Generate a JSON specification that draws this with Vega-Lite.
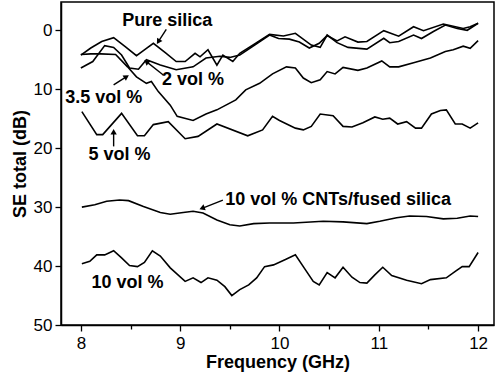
{
  "$schema": "https://vega.github.io/schema/vega-lite/v6.json",
  "width": 433,
  "height": 323,
  "autosize": {"type": "none"},
  "padding": {"left": 61, "top": 2, "right": 6, "bottom": 49},
  "background": "white",
  "config": {
    "view": {"stroke": "black", "strokeWidth": 1.5},
    "axis": {
      "domainColor": "black", "domainWidth": 1.5, "tickColor": "black", "tickWidth": 1.3,
      "labelColor": "black", "titleColor": "black",
      "labelFont": "Liberation Sans", "titleFont": "Liberation Sans",
      "labelFontSize": 17, "titleFontSize": 18, "titleFontWeight": "bold",
      "grid": false, "labelOverlap": false, "labelFlush": false
    }
  },
  "datasets": {
    "curves": [
      {"s":"Pure silica","f":8.0,"se":4.2},{"s":"Pure silica","f":8.1,"se":3.0},{"s":"Pure silica","f":8.21,"se":1.9},{"s":"Pure silica","f":8.33,"se":1.25},{"s":"Pure silica","f":8.45,"se":2.8},{"s":"Pure silica","f":8.56,"se":4.3},{"s":"Pure silica","f":8.65,"se":3.2},{"s":"Pure silica","f":8.73,"se":2.2},{"s":"Pure silica","f":8.85,"se":3.8},{"s":"Pure silica","f":8.96,"se":5.3},{"s":"Pure silica","f":9.05,"se":5.3},{"s":"Pure silica","f":9.15,"se":3.9},{"s":"Pure silica","f":9.2,"se":4.5},{"s":"Pure silica","f":9.28,"se":3.3},{"s":"Pure silica","f":9.37,"se":5.9},{"s":"Pure silica","f":9.43,"se":4.2},{"s":"Pure silica","f":9.53,"se":5.3},{"s":"Pure silica","f":9.6,"se":3.9},{"s":"Pure silica","f":9.75,"se":2.3},{"s":"Pure silica","f":9.9,"se":0.7},{"s":"Pure silica","f":10.04,"se":0.97},{"s":"Pure silica","f":10.16,"se":0.5},{"s":"Pure silica","f":10.32,"se":2.5},{"s":"Pure silica","f":10.41,"se":2.9},{"s":"Pure silica","f":10.48,"se":0.8},{"s":"Pure silica","f":10.58,"se":2.1},{"s":"Pure silica","f":10.69,"se":2.9},{"s":"Pure silica","f":10.88,"se":3.2},{"s":"Pure silica","f":11.05,"se":1.36},{"s":"Pure silica","f":11.11,"se":2.1},{"s":"Pure silica","f":11.2,"se":1.9},{"s":"Pure silica","f":11.35,"se":0.8},{"s":"Pure silica","f":11.43,"se":1.4},{"s":"Pure silica","f":11.55,"se":0.2},{"s":"Pure silica","f":11.67,"se":-0.9},{"s":"Pure silica","f":11.79,"se":-0.3},{"s":"Pure silica","f":11.89,"se":0.0},{"s":"Pure silica","f":12.0,"se":-1.2},
      {"s":"2 vol %","f":8.0,"se":6.4},{"s":"2 vol %","f":8.12,"se":5.3},{"s":"2 vol %","f":8.24,"se":2.6},{"s":"2 vol %","f":8.33,"se":2.9},{"s":"2 vol %","f":8.41,"se":4.2},{"s":"2 vol %","f":8.49,"se":6.4},{"s":"2 vol %","f":8.58,"se":6.6},{"s":"2 vol %","f":8.66,"se":5.0},{"s":"2 vol %","f":8.8,"se":5.9},{"s":"2 vol %","f":8.96,"se":6.7},{"s":"2 vol %","f":9.13,"se":6.2},{"s":"2 vol %","f":9.26,"se":4.7},{"s":"2 vol %","f":9.4,"se":4.4},{"s":"2 vol %","f":9.5,"se":4.6},{"s":"2 vol %","f":9.6,"se":4.2},{"s":"2 vol %","f":9.75,"se":2.5},{"s":"2 vol %","f":9.9,"se":0.8},{"s":"2 vol %","f":9.99,"se":1.4},{"s":"2 vol %","f":10.1,"se":1.5},{"s":"2 vol %","f":10.2,"se":2.0},{"s":"2 vol %","f":10.3,"se":3.0},{"s":"2 vol %","f":10.4,"se":2.2},{"s":"2 vol %","f":10.48,"se":0.9},{"s":"2 vol %","f":10.58,"se":1.8},{"s":"2 vol %","f":10.66,"se":1.1},{"s":"2 vol %","f":10.79,"se":2.0},{"s":"2 vol %","f":10.88,"se":1.9},{"s":"2 vol %","f":11.05,"se":0.06},{"s":"2 vol %","f":11.2,"se":1.0},{"s":"2 vol %","f":11.35,"se":-0.6},{"s":"2 vol %","f":11.45,"se":0.06},{"s":"2 vol %","f":11.65,"se":-1.07},{"s":"2 vol %","f":11.85,"se":-0.3},{"s":"2 vol %","f":11.92,"se":-0.6},{"s":"2 vol %","f":12.0,"se":-1.2},
      {"s":"3.5 vol %","f":8.0,"se":4.1},{"s":"3.5 vol %","f":8.1,"se":4.0},{"s":"3.5 vol %","f":8.2,"se":4.0},{"s":"3.5 vol %","f":8.35,"se":4.1},{"s":"3.5 vol %","f":8.47,"se":6.2},{"s":"3.5 vol %","f":8.56,"se":7.9},{"s":"3.5 vol %","f":8.66,"se":9.0},{"s":"3.5 vol %","f":8.71,"se":8.7},{"s":"3.5 vol %","f":8.78,"se":10.4},{"s":"3.5 vol %","f":8.9,"se":12.7},{"s":"3.5 vol %","f":8.97,"se":14.6},{"s":"3.5 vol %","f":9.13,"se":15.3},{"s":"3.5 vol %","f":9.26,"se":14.2},{"s":"3.5 vol %","f":9.37,"se":13.5},{"s":"3.5 vol %","f":9.56,"se":11.8},{"s":"3.5 vol %","f":9.66,"se":10.1},{"s":"3.5 vol %","f":9.8,"se":9.0},{"s":"3.5 vol %","f":9.93,"se":7.4},{"s":"3.5 vol %","f":10.07,"se":6.2},{"s":"3.5 vol %","f":10.16,"se":6.4},{"s":"3.5 vol %","f":10.24,"se":8.1},{"s":"3.5 vol %","f":10.32,"se":8.9},{"s":"3.5 vol %","f":10.41,"se":8.4},{"s":"3.5 vol %","f":10.48,"se":7.0},{"s":"3.5 vol %","f":10.56,"se":7.4},{"s":"3.5 vol %","f":10.64,"se":6.3},{"s":"3.5 vol %","f":10.79,"se":6.8},{"s":"3.5 vol %","f":10.88,"se":6.4},{"s":"3.5 vol %","f":11.03,"se":5.2},{"s":"3.5 vol %","f":11.11,"se":6.2},{"s":"3.5 vol %","f":11.2,"se":6.2},{"s":"3.5 vol %","f":11.35,"se":5.5},{"s":"3.5 vol %","f":11.52,"se":4.7},{"s":"3.5 vol %","f":11.67,"se":3.6},{"s":"3.5 vol %","f":11.75,"se":3.3},{"s":"3.5 vol %","f":11.85,"se":2.7},{"s":"3.5 vol %","f":11.92,"se":3.05},{"s":"3.5 vol %","f":12.0,"se":1.75},
      {"s":"5 vol %","f":8.01,"se":13.8},{"s":"5 vol %","f":8.16,"se":17.7},{"s":"5 vol %","f":8.22,"se":17.7},{"s":"5 vol %","f":8.41,"se":14.1},{"s":"5 vol %","f":8.57,"se":17.9},{"s":"5 vol %","f":8.64,"se":17.9},{"s":"5 vol %","f":8.73,"se":16.0},{"s":"5 vol %","f":8.88,"se":15.5},{"s":"5 vol %","f":9.05,"se":18.4},{"s":"5 vol %","f":9.18,"se":18.0},{"s":"5 vol %","f":9.37,"se":15.9},{"s":"5 vol %","f":9.68,"se":17.9},{"s":"5 vol %","f":9.83,"se":16.9},{"s":"5 vol %","f":9.93,"se":14.6},{"s":"5 vol %","f":10.0,"se":15.3},{"s":"5 vol %","f":10.16,"se":16.6},{"s":"5 vol %","f":10.24,"se":16.9},{"s":"5 vol %","f":10.32,"se":16.3},{"s":"5 vol %","f":10.41,"se":14.2},{"s":"5 vol %","f":10.54,"se":14.5},{"s":"5 vol %","f":10.64,"se":16.3},{"s":"5 vol %","f":10.73,"se":16.4},{"s":"5 vol %","f":10.84,"se":15.7},{"s":"5 vol %","f":10.96,"se":14.7},{"s":"5 vol %","f":11.04,"se":15.1},{"s":"5 vol %","f":11.11,"se":14.9},{"s":"5 vol %","f":11.19,"se":15.9},{"s":"5 vol %","f":11.28,"se":15.5},{"s":"5 vol %","f":11.37,"se":16.6},{"s":"5 vol %","f":11.43,"se":16.6},{"s":"5 vol %","f":11.53,"se":14.2},{"s":"5 vol %","f":11.62,"se":13.6},{"s":"5 vol %","f":11.68,"se":13.5},{"s":"5 vol %","f":11.77,"se":15.9},{"s":"5 vol %","f":11.84,"se":15.9},{"s":"5 vol %","f":11.92,"se":16.6},{"s":"5 vol %","f":12.0,"se":15.7},
      {"s":"10 vol % CNTs/fused silica","f":8.01,"se":30.0},{"s":"10 vol % CNTs/fused silica","f":8.14,"se":29.6},{"s":"10 vol % CNTs/fused silica","f":8.26,"se":29.0},{"s":"10 vol % CNTs/fused silica","f":8.39,"se":28.8},{"s":"10 vol % CNTs/fused silica","f":8.48,"se":28.9},{"s":"10 vol % CNTs/fused silica","f":8.63,"se":29.9},{"s":"10 vol % CNTs/fused silica","f":8.8,"se":30.9},{"s":"10 vol % CNTs/fused silica","f":8.9,"se":31.2},{"s":"10 vol % CNTs/fused silica","f":9.03,"se":30.9},{"s":"10 vol % CNTs/fused silica","f":9.13,"se":30.7},{"s":"10 vol % CNTs/fused silica","f":9.23,"se":31.0},{"s":"10 vol % CNTs/fused silica","f":9.37,"se":32.2},{"s":"10 vol % CNTs/fused silica","f":9.5,"se":33.0},{"s":"10 vol % CNTs/fused silica","f":9.6,"se":33.2},{"s":"10 vol % CNTs/fused silica","f":9.74,"se":32.8},{"s":"10 vol % CNTs/fused silica","f":9.9,"se":32.7},{"s":"10 vol % CNTs/fused silica","f":10.14,"se":32.7},{"s":"10 vol % CNTs/fused silica","f":10.44,"se":32.4},{"s":"10 vol % CNTs/fused silica","f":10.64,"se":32.5},{"s":"10 vol % CNTs/fused silica","f":10.88,"se":32.8},{"s":"10 vol % CNTs/fused silica","f":11.01,"se":32.4},{"s":"10 vol % CNTs/fused silica","f":11.18,"se":31.8},{"s":"10 vol % CNTs/fused silica","f":11.31,"se":31.5},{"s":"10 vol % CNTs/fused silica","f":11.48,"se":31.6},{"s":"10 vol % CNTs/fused silica","f":11.65,"se":32.0},{"s":"10 vol % CNTs/fused silica","f":11.79,"se":31.9},{"s":"10 vol % CNTs/fused silica","f":11.92,"se":31.5},{"s":"10 vol % CNTs/fused silica","f":12.0,"se":31.6},
      {"s":"10 vol %","f":8.01,"se":39.6},{"s":"10 vol %","f":8.09,"se":39.2},{"s":"10 vol %","f":8.16,"se":38.1},{"s":"10 vol %","f":8.24,"se":38.1},{"s":"10 vol %","f":8.33,"se":37.4},{"s":"10 vol %","f":8.41,"se":38.6},{"s":"10 vol %","f":8.49,"se":39.9},{"s":"10 vol %","f":8.57,"se":40.1},{"s":"10 vol %","f":8.64,"se":39.4},{"s":"10 vol %","f":8.72,"se":37.4},{"s":"10 vol %","f":8.8,"se":38.3},{"s":"10 vol %","f":8.9,"se":40.3},{"s":"10 vol %","f":9.05,"se":42.6},{"s":"10 vol %","f":9.13,"se":42.0},{"s":"10 vol %","f":9.21,"se":42.8},{"s":"10 vol %","f":9.28,"se":42.0},{"s":"10 vol %","f":9.37,"se":42.4},{"s":"10 vol %","f":9.45,"se":43.5},{"s":"10 vol %","f":9.52,"se":45.0},{"s":"10 vol %","f":9.6,"se":44.0},{"s":"10 vol %","f":9.69,"se":43.2},{"s":"10 vol %","f":9.77,"se":42.0},{"s":"10 vol %","f":9.85,"se":40.1},{"s":"10 vol %","f":9.94,"se":39.8},{"s":"10 vol %","f":10.06,"se":38.9},{"s":"10 vol %","f":10.16,"se":38.1},{"s":"10 vol %","f":10.26,"se":40.6},{"s":"10 vol %","f":10.34,"se":42.6},{"s":"10 vol %","f":10.4,"se":43.2},{"s":"10 vol %","f":10.48,"se":41.1},{"s":"10 vol %","f":10.56,"se":42.0},{"s":"10 vol %","f":10.64,"se":40.2},{"s":"10 vol %","f":10.73,"se":41.9},{"s":"10 vol %","f":10.81,"se":42.8},{"s":"10 vol %","f":10.88,"se":42.9},{"s":"10 vol %","f":10.96,"se":41.5},{"s":"10 vol %","f":11.04,"se":40.2},{"s":"10 vol %","f":11.13,"se":41.6},{"s":"10 vol %","f":11.28,"se":42.4},{"s":"10 vol %","f":11.43,"se":43.0},{"s":"10 vol %","f":11.52,"se":42.3},{"s":"10 vol %","f":11.68,"se":42.0},{"s":"10 vol %","f":11.77,"se":40.9},{"s":"10 vol %","f":11.84,"se":40.1},{"s":"10 vol %","f":11.91,"se":40.1},{"s":"10 vol %","f":12.0,"se":37.7}
    ],
    "labels": [
      {"t":"Pure silica","f":8.87,"se":-1.5},
      {"t":"2 vol %","f":9.13,"se":8.4},
      {"t":"3.5 vol %","f":8.23,"se":11.5},
      {"t":"5 vol %","f":8.39,"se":21.1},
      {"t":"10 vol % CNTs/fused silica","f":10.59,"se":28.8},
      {"t":"10 vol %","f":8.47,"se":42.9}
    ],
    "arrows": [
      {"f1":8.86,"v1":-0.17,"f2":8.78,"v2":1.93,"ang":212},
      {"f1":8.83,"v1":7.58,"f2":8.66,"v2":5.32,"ang":309},
      {"f1":8.33,"v1":9.27,"f2":8.46,"v2":7.86,"ang":58},
      {"f1":8.33,"v1":19.7,"f2":8.33,"v2":17.2,"ang":0},
      {"f1":9.43,"v1":28.8,"f2":9.22,"v2":30.2,"ang":249}
    ]
  },
  "layer": [
    {
      "data": {"name": "curves"},
      "mark": {"type": "line", "color": "black", "strokeWidth": 1.6},
      "encoding": {
        "x": {"field": "f", "type": "quantitative",
              "scale": {"domain": [7.8, 12.16], "nice": false, "zero": false},
              "axis": {"title": "Frequency (GHz)", "values": [8,8.5,9,9.5,10,10.5,11,11.5,12],
                       "labelExpr": "datum.value % 1 === 0 ? format(datum.value, 'd') : ''",
                       "tickSize": {"condition": {"test": "datum.value % 1 === 0", "value": 6}, "value": 4},
                       "labelPadding": 4, "titlePadding": 2}},
        "y": {"field": "se", "type": "quantitative",
              "scale": {"domain": [-4.8, 50], "nice": false, "zero": false, "reverse": true},
              "axis": {"title": "SE total (dB)", "values": [0,5,10,15,20,25,30,35,40,45,50],
                       "labelExpr": "datum.value % 10 === 0 ? format(datum.value, 'd') : ''",
                       "tickSize": {"condition": {"test": "datum.value % 10 === 0", "value": 6}, "value": 3},
                       "labelPadding": 3, "titlePadding": 4}},
        "detail": {"field": "s"}
      }
    },
    {
      "data": {"name": "arrows"},
      "mark": {"type": "rule", "color": "black", "strokeWidth": 1.4},
      "encoding": {
        "x": {"field": "f1", "type": "quantitative"},
        "y": {"field": "v1", "type": "quantitative"},
        "x2": {"field": "f2"},
        "y2": {"field": "v2"}
      }
    },
    {
      "data": {"name": "arrows"},
      "mark": {"type": "point", "shape": "triangle-up", "filled": true, "color": "black", "size": 40, "opacity": 1},
      "encoding": {
        "x": {"field": "f2", "type": "quantitative"},
        "y": {"field": "v2", "type": "quantitative"},
        "angle": {"field": "ang", "type": "quantitative", "scale": null}
      }
    },
    {
      "data": {"name": "labels"},
      "mark": {"type": "text", "font": "Liberation Sans", "fontWeight": "bold", "fontSize": 18, "color": "black", "align": "center", "baseline": "middle"},
      "encoding": {
        "x": {"field": "f", "type": "quantitative"},
        "y": {"field": "se", "type": "quantitative"},
        "text": {"field": "t"}
      }
    }
  ]
}
